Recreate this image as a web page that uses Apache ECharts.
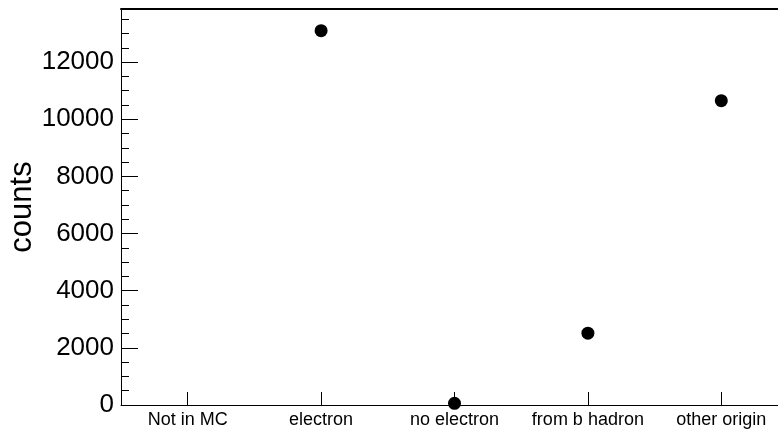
<!DOCTYPE html>
<html>
<head>
<meta charset="utf-8">
<script src="https://cdn.jsdelivr.net/npm/echarts@6/dist/echarts.min.js"></script>
<style>
  html, body { margin: 0; padding: 0; background: #fff; }
  #chart { width: 778px; height: 430px; }
</style>
</head>
<body>
<div id="chart"></div>
<script>
// Electron truth-origin categories and their counts
const categories = ['Not in MC', 'electron', 'no electron', 'from b hadron', 'other origin'];
const counts = [null, 13100, 60, 2515, 10650];
const yMax = 13860;
const yLabelStep = 2000;
const yMinorStep = 500;

const FONT = 'Liberation Sans, Arial, Helvetica, sans-serif';

const chart = echarts.init(document.getElementById('chart'), null, { renderer: 'canvas' });

chart.setOption({
  animation: false,
  backgroundColor: '#ffffff',
  grid: { left: 121, top: 9, width: 667, height: 396, containLabel: false, outerBoundsMode: 'none' },
  xAxis: [
    {
      type: 'category',
      data: categories,
      position: 'bottom',
      boundaryGap: true,
      axisLine: { show: true, onZero: false, lineStyle: { color: '#000', width: 1 } },
      axisTick: { show: true, inside: true, length: 13, alignWithLabel: true, lineStyle: { color: '#000', width: 1 } },
      axisLabel: { show: true, interval: 0, color: '#000', fontFamily: FONT, fontSize: 18, margin: 6, hideOverlap: false },
      splitLine: { show: false }
    },
    {
      // top frame line
      type: 'category',
      data: categories,
      position: 'top',
      axisLine: { show: true, onZero: false, lineStyle: { color: '#000', width: 2 } },
      axisTick: { show: false },
      axisLabel: { show: false },
      splitLine: { show: false }
    }
  ],
  yAxis: [
    {
      type: 'value',
      min: 0,
      max: yMax,
      interval: yLabelStep,
      position: 'left',
      name: 'counts',
      nameLocation: 'middle',
      nameRotate: 90,
      nameGap: 83,
      nameMoveOverlap: false,
      nameTextStyle: { color: '#000', fontFamily: FONT, fontSize: 31 },
      axisLine: { show: true, onZero: false, lineStyle: { color: '#000', width: 1 } },
      axisTick: { show: true, inside: true, length: 17, lineStyle: { color: '#000', width: 1 } },
      axisLabel: {
        show: true, color: '#000', fontFamily: FONT, fontSize: 26, margin: 7,
        showMaxLabel: false,
        formatter: v => (v % yLabelStep === 0 ? String(v) : '')
      },
      splitLine: { show: false }
    },
    {
      // minor ticks every 500
      type: 'value',
      min: 0,
      max: yMax,
      interval: yMinorStep,
      position: 'left',
      axisLine: { show: false, onZero: false },
      axisTick: { show: true, inside: true, length: 8, lineStyle: { color: '#000', width: 1 } },
      axisLabel: { show: false },
      splitLine: { show: false }
    }
  ],
  series: [
    {
      type: 'scatter',
      xAxisIndex: 0,
      yAxisIndex: 0,
      data: counts,
      symbol: 'circle',
      symbolSize: 13,
      itemStyle: { color: '#000', opacity: 1 },
      clip: false
    }
  ]
});
</script>
</body>
</html>
